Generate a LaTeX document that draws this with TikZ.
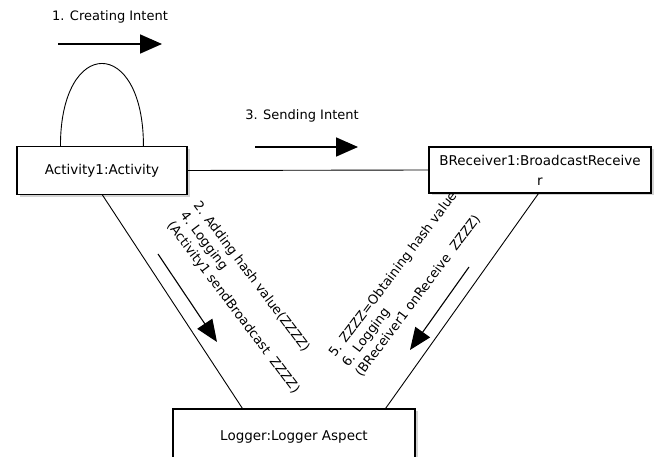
\documentclass[tikz,border=0pt]{standalone}
\usepackage{fontspec}
\setmainfont{DejaVu Sans}
\usetikzlibrary{arrows.meta,shadows}
\begin{document}
\begin{tikzpicture}[x=1pt,y=-1pt,
  objbox/.style={draw,line width=1.1pt,fill=white,inner sep=0pt,align=center,
    font=\fontsize{13.5}{20}\selectfont,
    drop shadow={shadow xshift=2.5pt,shadow yshift=-2.5pt,opacity=0.35,fill=gray}},
  link/.style={line width=0.9pt},
  msgarrow/.style={line width=1.8pt,-{Triangle[length=22pt,width=19pt]}},
  diagarrow/.style={line width=1.1pt,-{Triangle[length=22pt,width=18pt]}},
  msglabel/.style={inner sep=0pt,font=\fontsize{13}{16}\selectfont},
  rotlabel/.style={inner sep=0pt,align=left,font=\fontsize{13}{16.5}\selectfont}]
\useasboundingbox (0,0) rectangle (665,457);
% objects
\node[objbox,minimum width=170pt,minimum height=48pt] (act) at (102,170.5) {Activity1:Activity};
\node[objbox,minimum width=222pt,minimum height=46pt] (brc) at (540,170) {BReceiver1:BroadcastReceive\\r};
\node[objbox,minimum width=242pt,minimum height=56pt] (log) at (294,437) {Logger:Logger Aspect};
% links
\draw[link] (act.east) -- (brc.west);
\draw[link] ([xshift=44pt]act.north west) .. controls +(0,-110) and +(0,-110) .. ([xshift=127pt]act.north west);
\draw[link] ([xshift=86pt]act.south west) -- ([xshift=70pt]log.north west);
\draw[link] ([xshift=110pt]brc.south west) -- ([xshift=-30pt]log.north east);
% message arrows
\coordinate (a1s) at (58,44); \coordinate (a1e) at (162,44);
\coordinate (a3s) at (255,147); \coordinate (a3e) at (358,147);
\coordinate (a2s) at (158,254); \coordinate (a2e) at (217,342);
\coordinate (a5s) at (469,267); \coordinate (a5e) at (410,350);
\draw[msgarrow] (a1s) -- (a1e);
\draw[msgarrow] (a3s) -- (a3e);
\draw[diagarrow] (a2s) -- (a2e);
\draw[diagarrow] (a5s) -- (a5e);
% labels
\node[msglabel] (l1) at (110,17) {1. Creating Intent};
\node[msglabel] (l3) at (302,116) {3. Sending Intent};
\node[rotlabel,rotate=-53,anchor=north west] (l2) at (201,199.5)
  {2. Adding hash value(ZZZZ)\\4. Logging\\(Activity1 sendBroadcast\hspace{0.6em}ZZZZ)};
\node[rotlabel,rotate=53,anchor=north west] (l5) at (327,352)
  {5. ZZZZ=Obtaining hash value\\6. Logging\\(BReceiver1 onReceive\hspace{0.6em}ZZZZ)};
\end{tikzpicture}
\end{document}
